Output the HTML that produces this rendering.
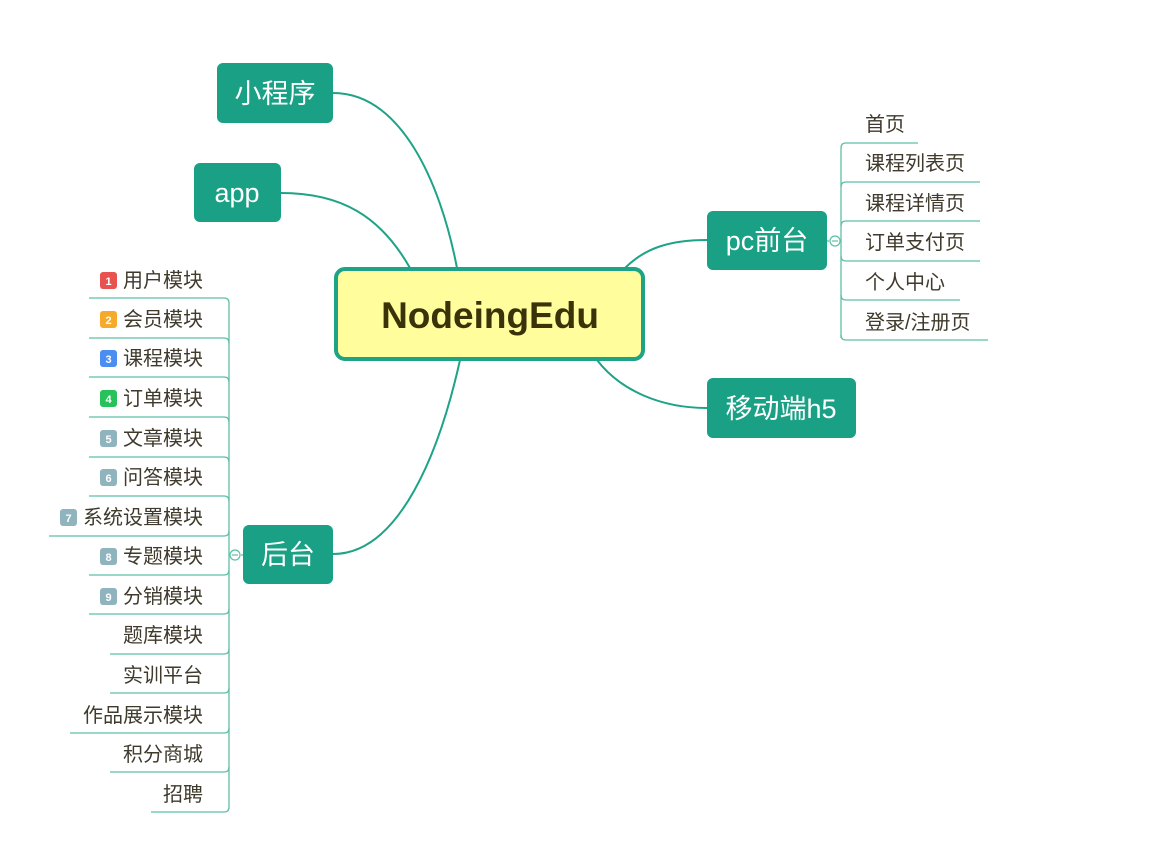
<!DOCTYPE html>
<html><head><meta charset="utf-8"><style>
html,body{margin:0;padding:0;background:#fff;}
svg text{font-family:"Liberation Sans","Noto Sans CJK SC",sans-serif;}
</style></head><body>
<svg width="1168" height="846" viewBox="0 0 1168 846" xmlns="http://www.w3.org/2000/svg">
<g fill="none" stroke="#1ea386" stroke-width="2">
<path d="M457 268 C440 180 400 93 333 93"/>
<path d="M410 268 C380 215 340 193 281 193"/>
<path d="M625 268 C645 248 670 240 707 240"/>
<path d="M597 360 C620 390 660 408 707 408"/>
<path d="M460 360 C440 450 400 554 333 554"/>
</g>
<rect x="336" y="269" width="307" height="90" rx="9" fill="#fffd9c" stroke="#1ea386" stroke-width="4"/>
<text x="490" y="328" text-anchor="middle" font-size="37" font-weight="bold" fill="#3a3208">NodeingEdu</text>
<g fill="#1aa085">
<rect x="217" y="63" width="116" height="60" rx="6"/>
<rect x="194" y="163" width="87" height="59" rx="6"/>
<rect x="707" y="211" width="120" height="59" rx="6"/>
<rect x="707" y="378" width="149" height="60" rx="6"/>
<rect x="243" y="525" width="90" height="59" rx="6"/>
</g>
<g fill="#fff" font-size="27" text-anchor="middle">
<text x="275" y="103">小程序</text>
<text x="237" y="202">app</text>
<text x="767" y="250">pc前台</text>
<text x="781" y="418">移动端h5</text>
<text x="288" y="564">后台</text>
</g>
<!-- right list -->
<g fill="none" stroke="#5cc0a6" stroke-width="1.3">
<path d="M841 338 V148 q0-5 5-5 H918"/>
<path d="M841 187 q0-5 5-5 H980"/>
<path d="M841 226 q0-5 5-5 H980"/>
<path d="M841 256 q0 5 5 5 H980"/>
<path d="M841 295 q0 5 5 5 H960"/>
<path d="M841 335 q0 5 5 5 H988"/>
<path d="M827 241 H829"/>
</g>
<circle cx="835" cy="241" r="5" fill="#fff" stroke="#5cc0a6" stroke-width="1.2"/>
<line x1="832" y1="241" x2="838" y2="241" stroke="#5cc0a6" stroke-width="1.2"/>
<g fill="#3f3a2c" font-size="20">
<text x="865" y="131">首页</text>
<text x="865" y="170">课程列表页</text>
<text x="865" y="210">课程详情页</text>
<text x="865" y="249">订单支付页</text>
<text x="865" y="289">个人中心</text>
<text x="865" y="329">登录/注册页</text>
</g>
<!-- left list -->
<g fill="none" stroke="#5cc0a6" stroke-width="1.3">
<path d="M89 298 H224 q5 0 5 5 V807 q0 5 -5 5 H151"/>
<path d="M89 338 H224 q5 0 5 5"/>
<path d="M89 377 H224 q5 0 5 5"/>
<path d="M89 417 H224 q5 0 5 5"/>
<path d="M89 457 H224 q5 0 5 5"/>
<path d="M89 496 H224 q5 0 5 5"/>
<path d="M49 536 H224 q5 0 5 -5"/>
<path d="M89 575 H224 q5 0 5 -5"/>
<path d="M89 614 H224 q5 0 5 -5"/>
<path d="M110 654 H224 q5 0 5 -5"/>
<path d="M110 693 H224 q5 0 5 -5"/>
<path d="M70 733 H224 q5 0 5 -5"/>
<path d="M110 772 H224 q5 0 5 -5"/>
<path d="M241 555 H243"/>
</g>
<circle cx="235" cy="555" r="5" fill="#fff" stroke="#5cc0a6" stroke-width="1.2"/>
<line x1="232" y1="555" x2="238" y2="555" stroke="#5cc0a6" stroke-width="1.2"/>
<g font-size="11" font-weight="bold" fill="#fff" text-anchor="middle">
<rect x="100" y="272" width="17" height="17" rx="3" fill="#e8534f"/><text x="108.5" y="285">1</text>
<rect x="100" y="311" width="17" height="17" rx="3" fill="#f7a92c"/><text x="108.5" y="324">2</text>
<rect x="100" y="350" width="17" height="17" rx="3" fill="#4b8ef2"/><text x="108.5" y="363">3</text>
<rect x="100" y="390" width="17" height="17" rx="3" fill="#27c25a"/><text x="108.5" y="403">4</text>
<rect x="100" y="430" width="17" height="17" rx="3" fill="#90b4bd"/><text x="108.5" y="443">5</text>
<rect x="100" y="469" width="17" height="17" rx="3" fill="#90b4bd"/><text x="108.5" y="482">6</text>
<rect x="60" y="509" width="17" height="17" rx="3" fill="#90b4bd"/><text x="68.5" y="522">7</text>
<rect x="100" y="548" width="17" height="17" rx="3" fill="#90b4bd"/><text x="108.5" y="561">8</text>
<rect x="100" y="588" width="17" height="17" rx="3" fill="#90b4bd"/><text x="108.5" y="601">9</text>
</g>
<g fill="#3f3a2c" font-size="20" text-anchor="end">
<text x="203" y="287">用户模块</text>
<text x="203" y="326">会员模块</text>
<text x="203" y="365">课程模块</text>
<text x="203" y="405">订单模块</text>
<text x="203" y="445">文章模块</text>
<text x="203" y="484">问答模块</text>
<text x="203" y="524">系统设置模块</text>
<text x="203" y="563">专题模块</text>
<text x="203" y="603">分销模块</text>
<text x="203" y="642">题库模块</text>
<text x="203" y="682">实训平台</text>
<text x="203" y="722">作品展示模块</text>
<text x="203" y="761">积分商城</text>
<text x="203" y="801">招聘</text>
</g>
</svg>
</body></html>
